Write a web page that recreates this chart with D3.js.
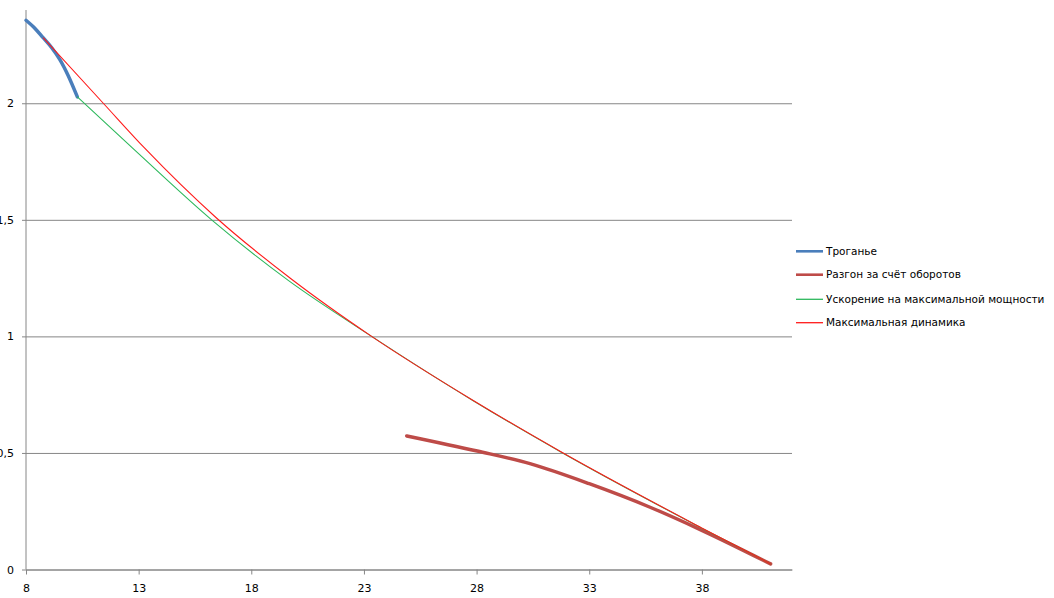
<!DOCTYPE html>
<html>
<head>
<meta charset="utf-8">
<script src="https://cdn.jsdelivr.net/npm/d3@7"></script>
<style>
  body { margin: 0; background: #fff; }
  svg { display: block; font-family: "DejaVu Sans", sans-serif; }
</style>
</head>
<body>
<svg id="chart" width="1054" height="598"></svg>
<script>
// данные
var seriesNames = ["Троганье", "Разгон за счёт оборотов", "Ускорение на максимальной мощности", "Максимальная динамика"];

var trogX = [8.0, 8.4, 8.77, 9.15, 9.51, 9.88, 10.28];
var trogY = [2.356, 2.321, 2.28, 2.237, 2.186, 2.117, 2.027];

var razgonX = [24.9, 28.03, 30.37, 33.0, 35.7, 38.02, 41.05];
var razgonY = [0.573, 0.508, 0.454, 0.368, 0.267, 0.167, 0.024];

var uskorX = [10.28, 12.84, 16.24, 19.64, 23.34, 27.85, 31.78, 38.06, 41.05];
var uskorY = [2.027, 1.798, 1.5, 1.24, 1.0, 0.724, 0.502, 0.174, 0.024];

var maxdynX = [8.77, 11.43, 13.28, 16.43, 19.79, 23.34, 27.85, 31.78, 38.06, 41.05];
var maxdynY = [2.28, 2.0, 1.806, 1.51, 1.245, 1.0, 0.725, 0.503, 0.175, 0.024];

var xTicks = [8, 13, 18, 23, 28, 33, 38];
var yTicks = [0, 0.5, 1, 1.5, 2];

//配置
var svg = d3.select('#chart');
var mLeft = 26, mRight = 792, mTop = 10, mBottom = 569.5;

var x = d3.scaleLinear().domain([8, 42]).range([mLeft, mRight]);
var y = d3.scaleLinear().domain([0, 2.4]).range([mBottom, mTop]);

var fmt = function(v){ return String(v).replace('.', ','); };

// горизонтальные линии сетки
svg.append('g')
    .attr('transform', `translate(${mLeft},0)`)
    .call(d3.axisLeft(y).tickValues(yTicks).tickSize(-(mRight - mLeft)).tickSizeOuter(0).tickFormat(fmt).tickPadding(12))
    .call(g => g.select('.domain').remove())
    .call(g => g.selectAll('line').attr('stroke', '#868686').attr('x1', -4))
    .call(g => g.selectAll('text').attr('fill', '#000').style('font-size', '11px').style('font-family', '"DejaVu Sans", sans-serif'));

// ось Y
svg.append('line')
    .attr('x1', mLeft).attr('x2', mLeft)
    .attr('y1', mTop).attr('y2', mBottom)
    .attr('stroke', '#868686');

// ось X
svg.append('g')
    .attr('transform', `translate(0,${mBottom})`)
    .call(d3.axisBottom(x).tickValues(xTicks).tickSize(5).tickSizeOuter(0).tickPadding(10))
    .call(g => g.select('.domain').attr('stroke', '#868686'))
    .call(g => g.selectAll('line').attr('stroke', '#868686'))
    .call(g => g.selectAll('text').attr('fill', '#000').style('font-size', '11px').style('font-family', '"DejaVu Sans", sans-serif'));

var series = [
    {name: seriesNames[0], xs: trogX, ys: trogY, color: '#4A7EBB', width: 3.5, lw: 2.6},
    {name: seriesNames[1], xs: razgonX, ys: razgonY, color: '#BE4B48', width: 3.5, lw: 2.6},
    {name: seriesNames[2], xs: uskorX, ys: uskorY, color: '#2DB85C', width: 1.1, lw: 1.3},
    {name: seriesNames[3], xs: maxdynX, ys: maxdynY, color: '#FF1A1A', width: 1.1, lw: 1.3}
];

var line = d3.line()
    .x(d => x(d[0]))
    .y(d => y(d[1]))
    .curve(d3.curveMonotoneX);

svg.append('g')
    .selectAll('path')
    .data(series)
    .enter()
    .append('path')
    .attr('fill', 'none')
    .attr('stroke', d => d.color)
    .attr('stroke-width', d => d.width)
    .attr('stroke-linecap', 'round')
    .attr('d', d => line(d.xs.map((v, i) => [v, d.ys[i]])));

// легенда
var legendY = [251.3, 274.7, 299.3, 322.7];
var legend = svg.append('g')
    .selectAll('g')
    .data(series)
    .enter()
    .append('g')
    .attr('transform', (d, i) => `translate(796,${legendY[i]})`);

legend.append('line')
    .attr('x1', 0).attr('x2', 27)
    .attr('stroke', d => d.color)
    .attr('stroke-width', d => d.lw);

legend.append('text')
    .attr('x', 30)
    .attr('dy', '0.35em')
    .style('font-size', '10.5px')
    .attr('fill', '#000')
    .text(d => d.name);
</script>
</body>
</html>
